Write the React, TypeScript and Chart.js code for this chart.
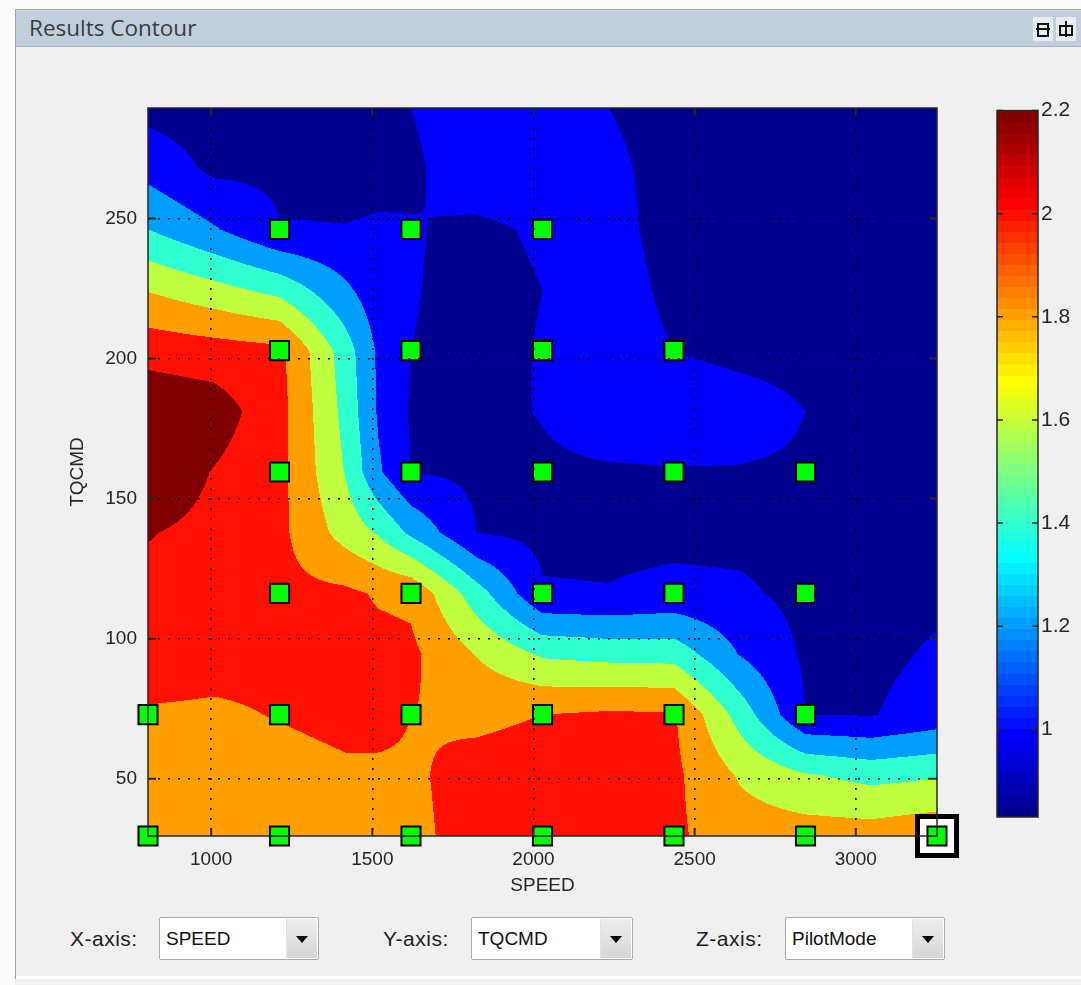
import React, { useEffect, useRef } from "react";
import { Chart, registerables } from "chart.js";

Chart.register(...registerables);

// ---------------- data ----------------
// interpolation grid of the contour (SPEED columns, TQCMD rows)
const speedGrid = [804, 1008, 1212, 1416, 1518, 1620, 1824, 2028, 2232, 2436, 2640, 2844, 3048, 3252];
const tqcmdGrid = [29.6, 51.25, 72.9, 94.55, 116.2, 137.85, 159.5, 181.15, 202.8, 224.45, 246.1, 267.75, 289.4];
// PilotMode values, one row per TQCMD grid value (bottom to top)
const pilotModeRow0 = [1.8, 1.8, 1.8, 1.85, 1.86, 1.87, 1.95, 1.95, 1.95, 1.93, 1.8, 1.8, 1.8, 1.85];
const pilotModeRow1 = [1.85, 1.82, 1.83, 1.87, 1.87, 1.88, 1.95, 1.97, 1.97, 1.94, 1.68, 1.52, 1.44, 1.48];
const pilotModeRow2 = [1.88, 1.87, 1.91, 1.95, 1.95, 1.9, 1.87, 1.9, 1.93, 1.92, 1.42, 0.9, 0.89, 0.98];
const pilotModeRow3 = [2.0, 1.97, 1.95, 1.98, 1.96, 1.94, 1.69, 1.47, 1.43, 1.42, 1.09, 0.87, 0.86, 0.92];
const pilotModeRow4 = [2.05, 2.0, 1.95, 1.94, 1.88, 1.86, 1.39, 0.92, 0.91, 0.95, 0.93, 0.85, 0.85, 0.87];
const pilotModeRow5 = [2.11, 2.05, 1.95, 1.62, 1.48, 1.26, 0.9, 0.85, 0.85, 0.85, 0.85, 0.85, 0.85, 0.85];
const pilotModeRow6 = [2.25, 2.09, 1.96, 1.49, 1.13, 0.9, 0.86, 0.87, 0.88, 0.89, 0.89, 0.88, 0.85, 0.85];
const pilotModeRow7 = [2.25, 2.2, 1.97, 1.44, 1.08, 0.88, 0.85, 0.91, 1.0, 1.0, 0.97, 0.9, 0.85, 0.85];
const pilotModeRow8 = [2.03, 1.99, 1.95, 1.4, 1.07, 0.9, 0.85, 0.91, 1.0, 0.9, 0.86, 0.85, 0.85, 0.85];
const pilotModeRow9 = [1.69, 1.57, 1.44, 1.14, 0.98, 0.91, 0.85, 0.9, 1.0, 0.85, 0.85, 0.85, 0.85, 0.85];
const pilotModeRow10 = [1.3, 1.12, 0.91, 0.905, 0.92, 0.91, 0.87, 0.92, 0.97, 0.82, 0.85, 0.85, 0.85, 0.85];
const pilotModeRow11 = [1.03, 0.86, 0.86, 0.85, 0.85, 0.87, 1.0, 1.0, 0.93, 0.85, 0.85, 0.85, 0.85, 0.85];
const pilotModeRow12 = [0.84, 0.8, 0.82, 0.82, 0.84, 0.9, 1.0, 1.0, 0.9, 0.85, 0.85, 0.85, 0.85, 0.85];
const pilotModeGrid = [
  pilotModeRow0, pilotModeRow1, pilotModeRow2, pilotModeRow3, pilotModeRow4, pilotModeRow5, pilotModeRow6,
  pilotModeRow7, pilotModeRow8, pilotModeRow9, pilotModeRow10, pilotModeRow11, pilotModeRow12,
];

// test points (green markers)
const testSpeed = [
  804, 1212, 1620, 2028, 2436, 2844, 3252,
  804, 1212, 1620, 2028, 2436, 2844,
  1212, 1620, 2028, 2436, 2844,
  1212, 1620, 2028, 2436, 2844,
  1212, 1620, 2028, 2436,
  1212, 1620, 2028,
];
const testTqcmd = [
  29.6, 29.6, 29.6, 29.6, 29.6, 29.6, 29.6,
  72.9, 72.9, 72.9, 72.9, 72.9, 72.9,
  116.2, 116.2, 116.2, 116.2, 116.2,
  159.5, 159.5, 159.5, 159.5, 159.5,
  202.8, 202.8, 202.8, 202.8,
  246.1, 246.1, 246.1,
];
const selectedSpeed = [3252];
const selectedTqcmd = [29.6];

const speedTicks = [1000, 1500, 2000, 2500, 3000];
const tqcmdTicks = [50, 100, 150, 200, 250];
const contourLevels = [0.9, 1.1, 1.3, 1.5, 1.7, 1.9, 2.1];
const bandValues = [0.83, 1.0, 1.2, 1.4, 1.6, 1.8, 2.0, 2.2];
const colorbarTicks = [1, 1.2, 1.4, 1.6, 1.8, 2, 2.2];
const colorMin = 0.83;
const colorMax = 2.2;

// ---------------- helpers ----------------
const FONT = "'Liberation Sans', Arial, Helvetica, sans-serif";
const TEXT = "#262626";

function jetChannel(idx: number, offset: number) {
  const i = idx - offset;
  if (i < 1 || i > 47) return 0;
  if (i <= 16) return i / 16;
  if (i <= 31) return 1;
  return (48 - i) / 16;
}
function jet64(idx: number): [number, number, number] {
  // idx 1..64 (MATLAB jet(64))
  return [
    Math.round(255 * jetChannel(idx, 24)),
    Math.round(255 * jetChannel(idx, 8)),
    Math.round(255 * jetChannel(idx, -8)),
  ];
}
function colorIndex(v: number) {
  const k = Math.floor(((v - colorMin) / (colorMax - colorMin)) * 64) + 1;
  return Math.max(1, Math.min(64, k));
}
const bandColors = bandValues.map((v) => jet64(colorIndex(v)));

function locate(arr: number[], v: number): [number, number] {
  let i = 0;
  while (i < arr.length - 2 && v > arr[i + 1]) i++;
  const t = Math.min(1, Math.max(0, (v - arr[i]) / (arr[i + 1] - arr[i])));
  return [i, t];
}

const contourPlugin = {
  id: "contourFill",
  beforeDatasetsDraw(chart: any) {
    const { ctx, chartArea, scales } = chart;
    const xs = scales.x;
    const ys = scales.y;
    const L = Math.round(chartArea.left);
    const T = Math.round(chartArea.top);
    const W = Math.round(chartArea.right) - L;
    const H = Math.round(chartArea.bottom) - T;
    const off = document.createElement("canvas");
    off.width = W;
    off.height = H;
    const octx = off.getContext("2d")!;
    const img = octx.createImageData(W, H);
    const colI: number[] = [];
    const colT: number[] = [];
    for (let px = 0; px < W; px++) {
      const [i, t] = locate(speedGrid, xs.getValueForPixel(L + px + 0.5));
      colI.push(i);
      colT.push(t);
    }
    for (let py = 0; py < H; py++) {
      const [j, u] = locate(tqcmdGrid, ys.getValueForPixel(T + py + 0.5));
      const r0 = pilotModeGrid[j];
      const r1 = pilotModeGrid[j + 1];
      for (let px = 0; px < W; px++) {
        const i = colI[px];
        const t = colT[px];
        const z =
          (1 - t) * (1 - u) * r0[i] + t * (1 - u) * r0[i + 1] + (1 - t) * u * r1[i] + t * u * r1[i + 1];
        let b = 0;
        while (b < contourLevels.length && z >= contourLevels[b]) b++;
        const c = bandColors[b];
        const o = (py * W + px) * 4;
        img.data[o] = c[0];
        img.data[o + 1] = c[1];
        img.data[o + 2] = c[2];
        img.data[o + 3] = 255;
      }
    }
    octx.putImageData(img, 0, 0);
    ctx.drawImage(off, L, T);
  },
};

const boxPlugin = {
  id: "axesBox",
  afterDraw(chart: any) {
    const { ctx, chartArea, scales } = chart;
    const { left, top, right, bottom } = chartArea;
    ctx.save();
    ctx.strokeStyle = TEXT;
    ctx.lineWidth = 1.5;
    ctx.strokeRect(left, top, right - left, bottom - top);
    ctx.lineWidth = 2;
    ctx.beginPath();
    speedTicks.forEach((v) => {
      const p = scales.x.getPixelForValue(v);
      ctx.moveTo(p, bottom);
      ctx.lineTo(p, bottom - 8);
      ctx.moveTo(p, top);
      ctx.lineTo(p, top + 8);
    });
    tqcmdTicks.forEach((v) => {
      const p = scales.y.getPixelForValue(v);
      ctx.moveTo(left, p);
      ctx.lineTo(left + 8, p);
      ctx.moveTo(right, p);
      ctx.lineTo(right - 8, p);
    });
    ctx.stroke();
    ctx.restore();
  },
};

const colorbarBoxPlugin = {
  id: "colorbarBox",
  afterDraw(chart: any) {
    const { ctx, chartArea, scales } = chart;
    const { left, top, right, bottom } = chartArea;
    ctx.save();
    ctx.strokeStyle = TEXT;
    ctx.lineWidth = 1.5;
    ctx.strokeRect(left, top, right - left, bottom - top);
    ctx.lineWidth = 1.5;
    ctx.beginPath();
    colorbarTicks.forEach((v) => {
      const p = scales.y.getPixelForValue(v);
      ctx.moveTo(left, p);
      ctx.lineTo(left + 6, p);
      ctx.moveTo(right, p);
      ctx.lineTo(right - 6, p);
    });
    ctx.stroke();
    ctx.restore();
  },
};

function Dropdown({ label, value, labelLeft, boxLeft, boxWidth }: any) {
  return (
    <>
      <div
        style={{
          position: "absolute",
          left: labelLeft,
          top: 926,
          fontFamily: FONT,
          fontSize: 21,
          letterSpacing: 0.5,
          color: "#1e1e1e",
          lineHeight: "26px",
        }}
      >
        {label}
      </div>
      <div
        style={{
          position: "absolute",
          left: boxLeft,
          top: 917,
          width: boxWidth,
          height: 43,
          border: "1px solid #a9a9a9",
          borderRadius: 2,
          background: "#ffffff",
          boxSizing: "border-box",
        }}
      >
        <div
          style={{
            position: "absolute",
            left: 6,
            top: 9,
            fontFamily: FONT,
            fontSize: 19,
            color: "#111",
            lineHeight: "24px",
          }}
        >
          {value}
        </div>
        <div
          style={{
            position: "absolute",
            right: 1,
            top: 1,
            bottom: 1,
            width: 30,
            background: "linear-gradient(#eeeeee, #d6d6d6)",
            borderLeft: "1px solid #e2e2e2",
          }}
        >
          <div
            style={{
              position: "absolute",
              left: 9,
              top: 17,
              width: 0,
              height: 0,
              borderLeft: "6px solid transparent",
              borderRight: "6px solid transparent",
              borderTop: "7px solid #000",
            }}
          />
        </div>
      </div>
    </>
  );
}

export default function App() {
  const mainRef = useRef<HTMLCanvasElement>(null);
  const barRef = useRef<HTMLCanvasElement>(null);

  useEffect(() => {
    const tickFont = { family: FONT, size: 19 };
    const points = testSpeed.map((s, i) => ({ x: s, y: testTqcmd[i] }));
    const selected = selectedSpeed.map((s, i) => ({ x: s, y: selectedTqcmd[i] }));

    const main = new Chart(mainRef.current!, {
      type: "scatter",
      data: {
        datasets: [
          {
            data: points,
            pointStyle: "rect",
            pointRadius: 13.5,
            pointBorderWidth: 2,
            pointBackgroundColor: "#00ff00",
            pointBorderColor: "#000000",
            clip: false,
          } as any,
          {
            data: selected,
            pointStyle: "rect",
            pointRadius: 27.6,
            pointBorderWidth: 5,
            pointBackgroundColor: "#ffffff",
            pointBorderColor: "#000000",
            clip: false,
          } as any,
        ],
      },
      options: {
        responsive: false,
        animation: false,
        events: [],
        layout: { autoPadding: false, padding: { left: 0, top: 28, right: 25, bottom: 9 } },
        plugins: { legend: { display: false }, tooltip: { enabled: false } },
        scales: {
          x: {
            type: "linear",
            min: 804,
            max: 3252,
            afterBuildTicks: (s: any) => {
              s.ticks = speedTicks.map((v) => ({ value: v }));
            },
            afterFit: (s: any) => {
              s.height = 65;
            },
            grid: { color: "#000000", lineWidth: 1.6, drawTicks: false, z: 1 },
            border: { display: false, dash: [2, 8] },
            ticks: {
              padding: 12,
              color: TEXT,
              font: tickFont,
              maxRotation: 0,
              autoSkip: false,
              callback: (v: any) => String(v),
              z: 1,
            },
            title: { display: true, text: "SPEED", color: TEXT, font: tickFont, padding: 4 },
          },
          y: {
            type: "linear",
            min: 29.6,
            max: 289.4,
            afterBuildTicks: (s: any) => {
              s.ticks = tqcmdTicks.map((v) => ({ value: v }));
            },
            afterFit: (s: any) => {
              s.width = 86;
            },
            grid: { color: "#000000", lineWidth: 1.6, drawTicks: false, z: 1 },
            border: { display: false, dash: [2, 8] },
            ticks: {
              padding: 11,
              color: TEXT,
              font: tickFont,
              autoSkip: false,
              callback: (v: any) => String(v),
              z: 1,
            },
            title: { display: true, text: "TQCMD", color: TEXT, font: tickFont, padding: 4 },
          },
        },
      } as any,
      plugins: [contourPlugin, boxPlugin],
    });

    const bar = new Chart(barRef.current!, {
      type: "bar",
      data: {
        labels: ["PilotMode"],
        datasets: [
          {
            data: [[colorMin, colorMax]],
            barPercentage: 1,
            categoryPercentage: 1,
            borderWidth: 0,
            backgroundColor: (c: any) => {
              const ch = c.chart;
              if (!ch.chartArea) return "#000080";
              const y = ch.scales.y;
              const y0 = y.getPixelForValue(colorMin);
              const y1 = y.getPixelForValue(colorMax);
              const g = ch.ctx.createLinearGradient(0, y0, 0, y1);
              for (let k = 1; k <= 64; k++) {
                const [r, gg, b] = jet64(k);
                const col = `rgb(${r},${gg},${b})`;
                g.addColorStop((k - 1) / 64, col);
                g.addColorStop(Math.min(1, k / 64 - 0.0001), col);
              }
              return g;
            },
          } as any,
        ],
      },
      options: {
        responsive: false,
        animation: false,
        events: [],
        layout: { autoPadding: false, padding: { left: 7, top: 13, right: 0, bottom: 18 } },
        plugins: { legend: { display: false }, tooltip: { enabled: false } },
        scales: {
          x: { display: false },
          y: {
            position: "right",
            min: colorMin,
            max: colorMax,
            afterBuildTicks: (s: any) => {
              s.ticks = colorbarTicks.map((v) => ({ value: v }));
            },
            afterFit: (s: any) => {
              s.width = 43;
            },
            grid: { drawOnChartArea: false, drawTicks: false },
            border: { display: false },
            ticks: {
              padding: 3,
              color: TEXT,
              font: { family: FONT, size: 21 },
              autoSkip: false,
              callback: (v: any) => String(v),
            },
          },
        },
      } as any,
      plugins: [colorbarBoxPlugin],
    });

    return () => {
      main.destroy();
      bar.destroy();
    };
  }, []);

  return (
    <div
      style={{
        position: "absolute",
        left: 0,
        top: 0,
        width: 1081,
        height: 985,
        background: "#f0f0f0",
        overflow: "hidden",
      }}
    >
      {/* outer frame */}
      <div style={{ position: "absolute", left: 0, top: 0, width: 1081, height: 9, background: "#fbfbfb" }} />
      <div style={{ position: "absolute", left: 0, top: 0, width: 15, height: 985, background: "#fbfbfb" }} />
      <div style={{ position: "absolute", left: 15, top: 9, width: 1, height: 970, background: "#a0a0a0" }} />
      <div style={{ position: "absolute", left: 15, top: 9, width: 1066, height: 1, background: "#a0a0a0" }} />
      <div style={{ position: "absolute", left: 16, top: 976, width: 1065, height: 3, background: "#ffffff" }} />
      {/* title bar */}
      <div
        style={{
          position: "absolute",
          left: 16,
          top: 10,
          width: 1065,
          height: 37,
          background: "#c1cfdd",
          borderTop: "1px solid #d4dee8",
          borderBottom: "1px solid #a6b4c2",
          boxSizing: "border-box",
        }}
      />
      <div
        style={{
          position: "absolute",
          left: 29,
          top: 13,
          fontFamily: "'Open Sans', 'Noto Sans', sans-serif",
          fontSize: 22.5,
          lineHeight: "30px",
          color: "#3c3c3c",
        }}
      >
        Results Contour
      </div>
      {/* title bar buttons */}
      <div
        style={{
          position: "absolute",
          left: 1033,
          top: 17,
          width: 20,
          height: 24,
          background: "#e8edf2",
        }}
      >
        <div style={{ position: "absolute", left: 4, top: 6, width: 8, height: 10, border: "2px solid #111" }} />
        <div style={{ position: "absolute", left: 3, top: 11, width: 14, height: 2, background: "#111" }} />
      </div>
      <div
        style={{
          position: "absolute",
          left: 1056,
          top: 17,
          width: 20,
          height: 24,
          background: "#e8edf2",
        }}
      >
        <div style={{ position: "absolute", left: 3, top: 8, width: 10, height: 7, border: "2px solid #111" }} />
        <div style={{ position: "absolute", left: 9, top: 4, width: 2, height: 16, background: "#111" }} />
      </div>

      <canvas
        ref={mainRef}
        width={900}
        height={830}
        style={{ position: "absolute", left: 62, top: 80, width: 900, height: 830 }}
      />
      <canvas
        ref={barRef}
        width={91}
        height={740}
        style={{ position: "absolute", left: 990, top: 95, width: 91, height: 740 }}
      />

      <Dropdown label="X-axis:" value="SPEED" labelLeft={70} boxLeft={159} boxWidth={160} />
      <Dropdown label="Y-axis:" value="TQCMD" labelLeft={383} boxLeft={471} boxWidth={162} />
      <Dropdown label="Z-axis:" value="PilotMode" labelLeft={696} boxLeft={785} boxWidth={160} />
    </div>
  );
}
